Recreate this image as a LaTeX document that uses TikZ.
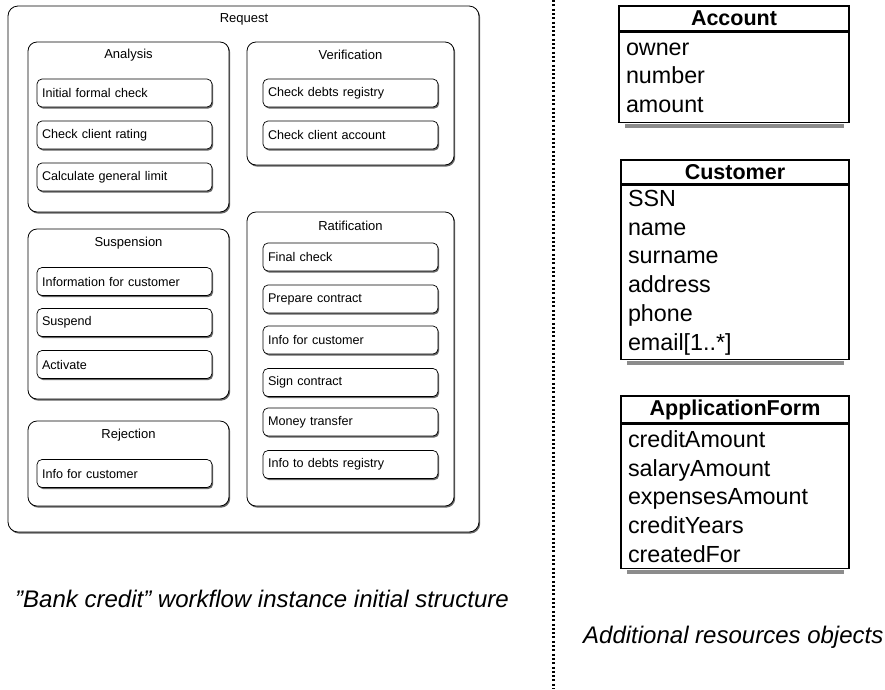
\documentclass[tikz,border=0pt]{standalone}
\usepackage{fontspec}
\setmainfont{Liberation Sans}
\usetikzlibrary{shadows}
\begin{document}
\begin{tikzpicture}[x=1pt,y=-1pt,
  boxshadow/.style={drop shadow={shadow xshift=1.2pt,shadow yshift=-1.6pt,fill=black!75,opacity=0.8}},
  request/.style={draw, line width=0.8pt, rounded corners=10pt, fill=white, boxshadow, minimum width=471pt, minimum height=526pt, inner sep=0pt},
  group/.style={draw, line width=0.8pt, rounded corners=9pt, fill=white, boxshadow, minimum width=201pt, inner sep=0pt},
  grouplabel/.style={font=\fontsize{13}{15}\selectfont, inner sep=0pt},
  task/.style={draw, line width=0.7pt, rounded corners=5pt, fill=white, boxshadow, text width=165pt, inner xsep=5pt, inner ysep=0pt, minimum height=28pt, align=left, font=\fontsize{12.6}{15}\selectfont},
  umlhead/.style={draw, line width=1.6pt, inner sep=0pt, font=\fontsize{21.5}{24}\selectfont\bfseries},
  umlbody/.style={draw, line width=1.6pt, inner xsep=7pt, inner ysep=0pt, align=left, font=\fontsize{23.3}{28.7}\selectfont},
  umlshadow/.style={fill=black!45},
  caption/.style={font=\fontsize{24}{26}\selectfont\itshape, inner sep=0pt},
  dotline/.style={line width=3pt, dash pattern=on 2pt off 2.3pt}
]
\useasboundingbox (0,0) rectangle (885,689);

% Request container
\node[request] (req) at (243.5,269) {};
\node[grouplabel] (reqlab) at (244,19) {Request};

% Groups
\node[group, minimum height=170pt] (analysis) at (128.5,127) {};
\node[grouplabel] (analysislab) at (128.5,55) {Analysis};
\node[group, minimum width=207pt, minimum height=123pt] (verif) at (350.5,103.5) {};
\node[grouplabel] (veriflab) at (350.5,55) {Verification};
\node[group, minimum width=207pt, minimum height=294pt] (ratif) at (350.5,359) {};
\node[grouplabel] (ratiflab) at (350.5,226) {Ratification};
\node[group, minimum height=170pt] (susp) at (128.5,314) {};
\node[grouplabel] (susplab) at (128.5,243) {Suspension};
\node[group, minimum height=85pt] (rej) at (128.5,463.5) {};
\node[grouplabel] (rejlab) at (128.5,435) {Rejection};

% Tasks
\node[task] (a1) at (124.5,93) {Initial formal check};
\node[task] (a2) at (124.5,135) {Check client rating};
\node[task] (a3) at (124.5,177) {Calculate general limit};

\node[task] (v1) at (350.5,93) {Check debts registry};
\node[task] (v2) at (350.5,135) {Check client account};

\node[task] (r1) at (350.5,257) {Final check};
\node[task] (r2) at (350.5,299) {Prepare contract};
\node[task] (r3) at (350.5,340) {Info for customer};
\node[task] (r4) at (350.5,382.5) {Sign contract};
\node[task] (r5) at (350.5,422) {Money transfer};
\node[task] (r6) at (350.5,464.5) {Info to debts registry};

\node[task] (s1) at (124.5,281.5) {Information for customer};
\node[task] (s2) at (124.5,322.5) {Suspend};
\node[task] (s3) at (124.5,364.5) {Activate};

\node[task] (j1) at (124.5,473.5) {Info for customer};

% Caption left
\node[caption] (capleft) at (262,599) {”Bank credit” workflow instance initial structure};

% Dotted separator
\coordinate (dtop) at (553.5,0);
\coordinate (dbot) at (553.5,689);
\draw[dotline] (dtop) -- (dbot);

% Account
\node[umlhead, minimum width=230pt, minimum height=25pt] (acch) at (734,18.5) {Account};
\node[umlbody, anchor=north, text width=216pt, minimum height=90pt] (accb) at (acch.south) {owner\\number\\amount};
\fill[umlshadow] ([xshift=7pt,yshift=-1pt]accb.south west) rectangle ([xshift=-6pt,yshift=-4.5pt]accb.south east);

% Customer
\node[umlhead, minimum width=228pt, minimum height=24pt] (custh) at (735,172) {Customer};
\node[umlbody, anchor=north, text width=214pt, minimum height=174pt] (custb) at (custh.south) {SSN\\name\\surname\\address\\phone\\email[1..*]};
\fill[umlshadow] ([xshift=7pt,yshift=-1pt]custb.south west) rectangle ([xshift=-6pt,yshift=-4.5pt]custb.south east);

% ApplicationForm
\node[umlhead, minimum width=228pt, minimum height=27pt] (apph) at (735,409.5) {ApplicationForm};
\node[umlbody, anchor=north, text width=214pt, minimum height=144pt] (appb) at (apph.south) {creditAmount\\salaryAmount\\expensesAmount\\creditYears\\createdFor};
\fill[umlshadow] ([xshift=7pt,yshift=-1pt]appb.south west) rectangle ([xshift=-6pt,yshift=-4.5pt]appb.south east);

% Caption right
\node[caption, anchor=west] (capright) at (583,637) {Additional resources objects};
\end{tikzpicture}
\end{document}
